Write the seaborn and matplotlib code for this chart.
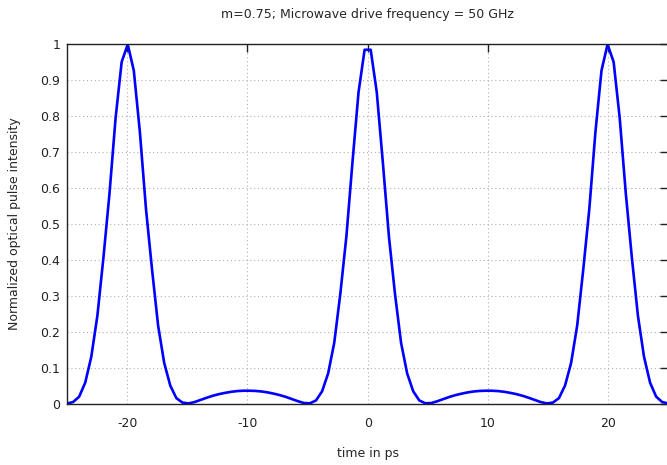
import numpy as np
import pandas as pd
import matplotlib
matplotlib.use("Agg")
import matplotlib.pyplot as plt
import seaborn as sns

# time grid (ps), 100 samples across the window
time_ps = np.linspace(-25, 25, 100)

# normalized intensity (left half, k = 0..49)
intensity_left = [
    0.0, 0.004, 0.019, 0.058, 0.130, 0.244, 0.406, 0.585, 0.794, 0.950,
    0.999, 0.926, 0.755, 0.542, 0.373, 0.217, 0.113, 0.050, 0.015, 0.0026,
    0.0002, 0.004, 0.010, 0.016, 0.0215, 0.026, 0.0295, 0.0325, 0.0345, 0.0355,
    0.0356, 0.035, 0.0335, 0.031, 0.0275, 0.0235, 0.0185, 0.0125, 0.0065, 0.0013,
    0.0006, 0.0085, 0.034, 0.084, 0.169, 0.305, 0.465, 0.671, 0.866, 0.984,
]
# right half (k = 50..99)
intensity_right = [
    0.984, 0.866, 0.671, 0.465, 0.305, 0.169, 0.084, 0.034, 0.0085, 0.0006,
    0.0013, 0.0065, 0.0125, 0.0185, 0.0235, 0.0275, 0.031, 0.0335, 0.035, 0.0356,
    0.0355, 0.0345, 0.0325, 0.0295, 0.026, 0.0215, 0.016, 0.010, 0.004, 0.0002,
    0.0026, 0.015, 0.050, 0.113, 0.217, 0.373, 0.542, 0.755, 0.926, 0.999,
    0.950, 0.794, 0.585, 0.406, 0.244, 0.130, 0.058, 0.019, 0.004, 0.0,
]
intensity = intensity_left + intensity_right

x_ticks = [-20, -10, 0, 10, 20]
x_tick_labels = ["-20", "-10", "0", "10", "20"]
y_ticks = [0, 0.1, 0.2, 0.3, 0.4, 0.5, 0.6, 0.7, 0.8, 0.9, 1]
y_tick_labels = ["0", "0.1", "0.2", "0.3", "0.4", "0.5", "0.6", "0.7", "0.8", "0.9", "1"]

title = "m=0.75; Microwave drive frequency = 50 GHz"
xlabel = "time in ps"
ylabel = "Normalized optical pulse intensity"

sns.set_style("white")
plt.rcParams["font.family"] = ["DejaVu Sans"]

df = pd.DataFrame({"t": time_ps, "I": intensity})

fig = plt.figure(figsize=(6.67, 4.65), dpi=100)
ax = fig.add_axes([67 / 667, 1 - 403.5 / 465, (668.3 - 67) / 667, (403.5 - 44) / 465])

sns.lineplot(data=df, x="t", y="I", ax=ax, color="#0000ff", linewidth=1.9, sort=False)

ax.set_xlim(-25, 25)
ax.set_ylim(0, 1)
ax.set_xticks(x_ticks)
ax.set_xticklabels(x_tick_labels)
ax.set_yticks(y_ticks)
ax.set_yticklabels(y_tick_labels)

ax.grid(True, linestyle=(0, (1, 2.5)), color="#b0b0b0", linewidth=0.8)
ax.set_axisbelow(True)

for s in ax.spines.values():
    s.set_visible(True)
    s.set_color("#222222")
    s.set_linewidth(1.0)

ax.tick_params(axis="both", which="both", direction="in", length=5.5, width=1.0,
               top=True, right=True, labelsize=9, colors="#222222")
ax.tick_params(axis="x", pad=10)
ax.tick_params(axis="y", pad=5)

ax.set_title(title, fontsize=9, pad=19)
ax.set_xlabel(xlabel, fontsize=9, labelpad=12)
ax.set_ylabel(ylabel, fontsize=9, labelpad=14)

fig.savefig("out.png", dpi=100)
